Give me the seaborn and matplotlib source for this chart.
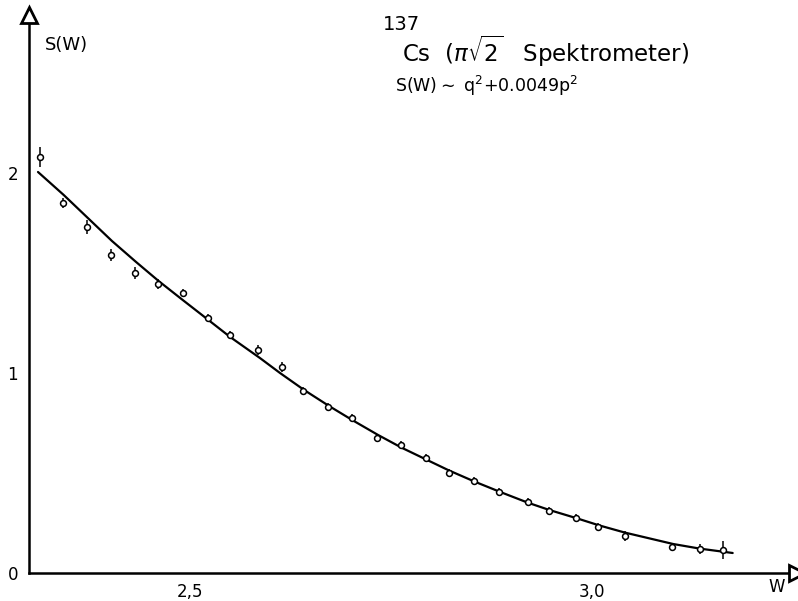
import matplotlib
matplotlib.use("Agg")
import matplotlib.pyplot as plt
import seaborn as sns
import pandas as pd
import numpy as np

# measured points
w_points = [2.314, 2.342, 2.372, 2.402, 2.432, 2.460, 2.491, 2.522, 2.550, 2.585,
            2.615, 2.641, 2.672, 2.702, 2.733, 2.763, 2.793, 2.822, 2.853, 2.884,
            2.920, 2.946, 2.980, 3.008, 3.041, 3.100, 3.134, 3.163]
s_points = [2.08, 1.85, 1.73, 1.59, 1.50, 1.445, 1.40, 1.275, 1.19, 1.115,
            1.03, 0.91, 0.83, 0.775, 0.675, 0.64, 0.575, 0.50, 0.46, 0.405,
            0.355, 0.31, 0.275, 0.23, 0.185, 0.13, 0.12, 0.115]
s_err = [0.05, 0.025, 0.035, 0.03, 0.03, 0.025, 0.02, 0.02, 0.02, 0.025,
         0.025, 0.02, 0.02, 0.02, 0.02, 0.02, 0.02, 0.02, 0.02, 0.02,
         0.02, 0.02, 0.02, 0.02, 0.025, 0.02, 0.025, 0.045]

# fitted curve
w_curve = [2.311, 2.343, 2.373, 2.403, 2.433, 2.461, 2.491, 2.522, 2.550, 2.587,
           2.612, 2.642, 2.673, 2.703, 2.734, 2.764, 2.794, 2.822, 2.854, 2.886,
           2.920, 2.947, 2.980, 3.009, 3.041, 3.101, 3.134, 3.175]
s_curve = [2.005, 1.89, 1.775, 1.66, 1.555, 1.46, 1.365, 1.268, 1.18, 1.075,
           1.0, 0.915, 0.835, 0.762, 0.69, 0.625, 0.567, 0.513, 0.457, 0.405,
           0.352, 0.315, 0.275, 0.238, 0.202, 0.145, 0.122, 0.10]

x_ticks = [2.5, 3.0]
x_ticklabels = ["2,5", "3,0"]
y_ticks = [0, 1, 2]
y_ticklabels = ["0", "1", "2"]

sns.set_style("white")
plt.rcParams['font.family'] = ['DejaVu Sans']
plt.rcParams['text.color'] = 'black'
plt.rcParams['xtick.color'] = 'black'
plt.rcParams['ytick.color'] = 'black'

fig = plt.figure(figsize=(7.98, 6.01), dpi=100)
ax = fig.add_axes([29/798, 28/601, 768/798, 558/601])

pts = pd.DataFrame({"w": w_points, "s": s_points, "e": s_err})
cur = pd.DataFrame({"w": w_curve, "s": s_curve})

sns.lineplot(data=cur, x="w", y="s", ax=ax, color="black", linewidth=1.6, sort=True)
ax.vlines(pts["w"], pts["s"] - pts["e"], pts["s"] + pts["e"], color="black", linewidth=1.1, zorder=3)
sns.scatterplot(data=pts, x="w", y="s", ax=ax, marker="o", s=18, facecolor="white",
                edgecolor="black", linewidth=1.1, zorder=4)

ax.set_xlim(2.2998, 3.255)
ax.set_ylim(0, 2.79)

for side in ["top", "right"]:
    ax.spines[side].set_visible(False)
for side in ["left", "bottom"]:
    ax.spines[side].set_linewidth(1.8)
    ax.spines[side].set_color("black")

ax.set_xticks(x_ticks)
ax.set_xticklabels(x_ticklabels)
ax.set_yticks(y_ticks)
ax.set_yticklabels(y_ticklabels)
ax.tick_params(axis="both", direction="out", length=5, width=1.5, labelsize=12,
               colors="black", labelcolor="black")
ax.tick_params(axis="x", pad=2)
ax.tick_params(axis="y", pad=3)
ax.set_xlabel("")
ax.set_ylabel("")

# arrow heads
ax.plot([0], [1], marker="^", markersize=11, markerfacecolor="white", markeredgecolor="black",
        markeredgewidth=2, transform=ax.transAxes, clip_on=False, zorder=5)
ax.plot([1], [0], marker=">", markersize=11, markerfacecolor="white", markeredgecolor="black",
        markeredgewidth=2, transform=ax.transAxes, clip_on=False, zorder=5)

# texts
fig.text(45/798, 1 - 45/601, "S(W)", fontsize=13, va="center", ha="left", color="black")
fig.text(777/798, 1 - 587/601, "W", fontsize=12, va="center", ha="center", color="black")
fig.text(383/798, 1 - 24/601, "137", fontsize=14, va="center", ha="left", color="black")
fig.text(402/798, 1 - 62/601, r"Cs  ($\pi\sqrt{2}$   Spektrometer)", fontsize=16.5,
         va="baseline", ha="left", color="black")
fig.text(395/798, 1 - 92/601, r"S(W)$\sim$ q$^2$+0.0049p$^2$", fontsize=12.5,
         va="baseline", ha="left", color="black")

fig.savefig("out.png", dpi=100)
